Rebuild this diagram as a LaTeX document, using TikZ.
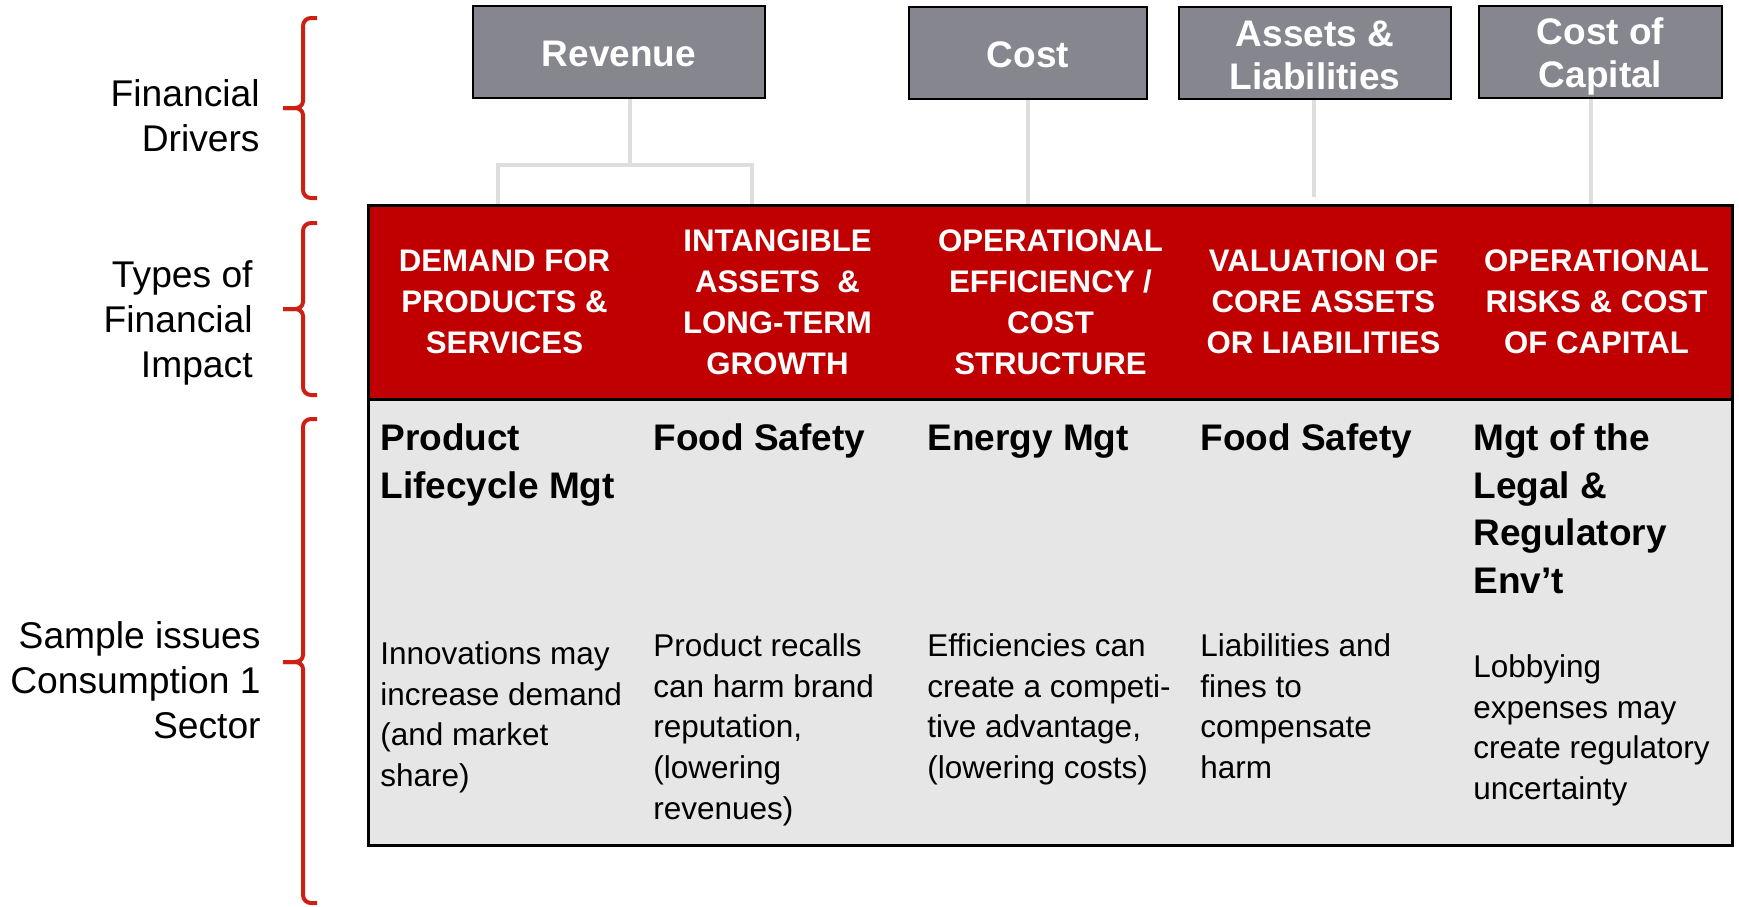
\documentclass[tikz,border=0pt]{standalone}
\usepackage{fontspec}
\setmainfont{Liberation Sans}
\begin{document}
\begin{tikzpicture}[x=0.5pt,y=-0.5pt]
\definecolor{bandred}{RGB}{192,0,0}
\definecolor{bodygray}{RGB}{230,230,230}
\definecolor{drvgray}{RGB}{133,134,142}
\definecolor{conngray}{RGB}{222,222,222}
\definecolor{bracered}{RGB}{204,32,20}
\tikzset{
  drv/.style={draw=black, line width=1pt, fill=drvgray, text=white,
    font=\fontsize{18.5}{21.6}\selectfont\bfseries, align=center,
    inner sep=0pt, minimum height=46pt},
  head/.style={text=white, font=\fontsize{15.6}{20.5}\selectfont\bfseries,
    align=center, inner sep=0pt},
  ttl/.style={anchor=north west, inner sep=0pt, align=left,
    font=\fontsize{18.5}{23.85}\selectfont\bfseries},
  dsc/.style={anchor=north west, inner sep=0pt, align=left,
    font=\fontsize{15.75}{20.4}\selectfont},
  lbl/.style={anchor=north east, inner sep=0pt, align=right,
    font=\fontsize{18.6}{22.5}\selectfont},
  conn/.style={draw=conngray, line width=2pt},
  brc/.style={draw=bracered, line width=2pt},
  panel/.style={draw=black, line width=1.5pt, minimum width=682pt, inner sep=0pt}
}
\useasboundingbox (0,0) rectangle (1739,906);

% financial drivers (the zero-width rules set the top of each label)
\node[drv, minimum width=146pt]   (rev)  at (619,52)    {\rule{0pt}{14.4pt}Revenue};
\node[drv, minimum width=119pt]   (cost) at (1028,53)   {\rule{0pt}{14.8pt}Cost};
\node[drv, minimum width=136pt]   (al)   at (1315,53)   {\rule{0pt}{14.8pt}Assets \&\\Liabilities};
\node[drv, minimum width=121.5pt] (cc)   at (1600.5,52) {\rule{0pt}{18pt}Cost of\\Capital};

% junction points of the connectors
\coordinate (rj) at (630,165);
\coordinate (rl) at (498,165);
\coordinate (rr) at (752,165);
\coordinate (aend) at (1314,197);
\coordinate (ccx) at (1591,210);

% table body and header band
\node[panel, fill=bodygray, minimum height=223pt] (body) at (1050,622) {};

% connectors from the drivers to the band
\draw[conn] (rev.south -| rj) -- (rj);
\draw[conn] (rl |- body.north) ++(0,-190) -- (rl) -- (rr) -- ++(0,40);
\draw[conn] (cost.south) -- ++(0,108);
\draw[conn] (al.south -| aend) -- (aend);
\draw[conn] (cc.south -| ccx) -- (ccx);

\node[panel, fill=bandred, minimum height=97pt] (band) at (1050,302) {};

% impact types
\node[head] (h1) at (504.5,302) {DEMAND FOR\\PRODUCTS \&\\SERVICES};
\node[head] (h2) at (777.5,302) {INTANGIBLE\\ASSETS\ \ \&\\LONG-TERM\\GROWTH};
\node[head] (h3) at (1050.5,302) {OPERATIONAL\\EFFICIENCY /\\COST\\STRUCTURE};
\node[head] (h4) at (1323.5,302) {VALUATION OF\\CORE ASSETS\\OR LIABILITIES};
\node[head] (h5) at (1596.5,302) {OPERATIONAL\\RISKS \& COST\\OF CAPITAL};

% sample issues
\node[ttl] (t1) at (380,416.6)  {\strut Product\\Lifecycle Mgt};
\node[ttl] (t2) at (653,416.6)  {\strut Food Safety};
\node[ttl] (t3) at (927,416.6)  {\strut Energy Mgt};
\node[ttl] (t4) at (1200,416.6) {\strut Food Safety};
\node[ttl] (t5) at (1473,416.6) {\strut Mgt of the\\Legal \&\\Regulatory\\Env’t};

\node[dsc] (d1) at (380,635.4)  {\strut Innovations may\\increase demand\\(and market\\share)};
\node[dsc] (d2) at (653,627.4)  {\strut Product recalls\\can harm brand\\reputation,\\(lowering\\revenues)};
\node[dsc] (d3) at (927,627.4)  {\strut Efficiencies can\\create a competi-\\tive advantage,\\(lowering costs)};
\node[dsc] (d4) at (1200,627.4) {\strut Liabilities and\\fines to\\compensate\\harm};
\node[dsc] (d5) at (1473,648.4) {\strut Lobbying\\expenses may\\create regulatory\\uncertainty};

% row labels
\node[lbl] (l1) at (260,74.5)  {\strut Financial\\Drivers};
\node[lbl] (l2) at (253,255.5) {\strut Types of\\Financial\\Impact};
\node[lbl] (l3) at (261,616.5) {\strut Sample issues\\Consumption 1\\Sector};

% braces
\foreach \T/\M/\B in {18/108/198, 223/309/395, 419/662/903}{
  \draw[brc] (317,\T) -- (311,\T) to[out=180,in=90] (303,\T+8) -- (303,\M-7)
    to[out=-90,in=0] (295,\M) -- (283,\M);
  \draw[brc] (283,\M) -- (295,\M) to[out=0,in=90] (303,\M+7) -- (303,\B-8)
    to[out=-90,in=180] (311,\B) -- (317,\B);
}
\end{tikzpicture}
\end{document}
